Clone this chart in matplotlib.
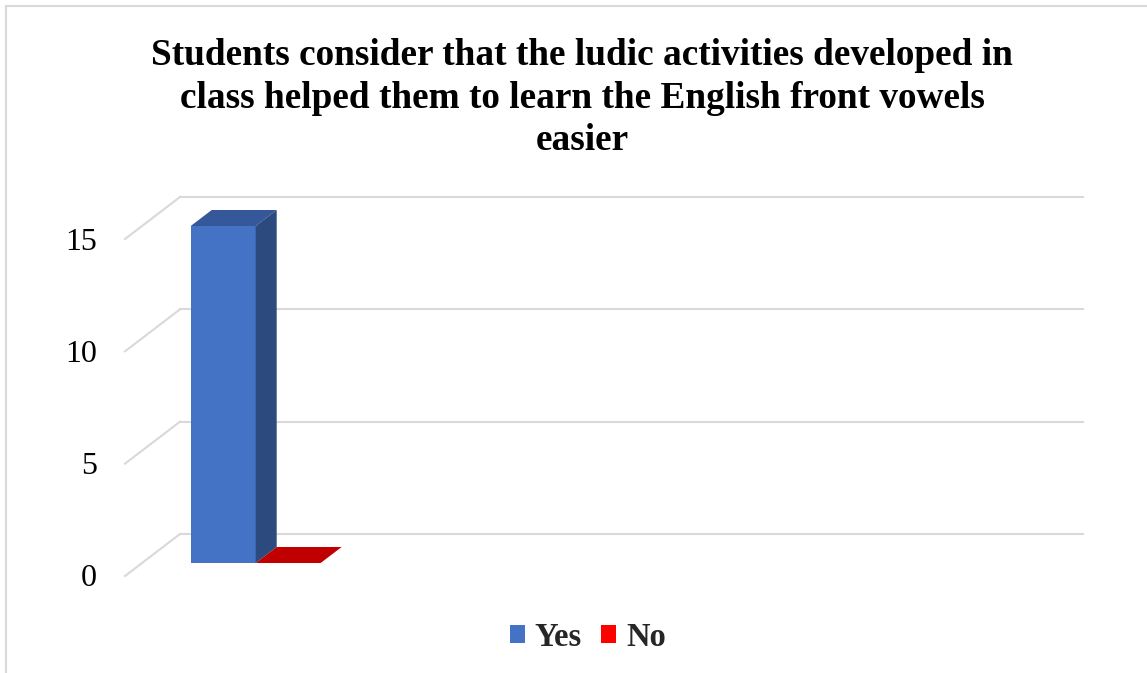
import numpy as np
import matplotlib.pyplot as plt
from matplotlib.patches import Polygon, Patch
from matplotlib.lines import Line2D

# survey answers
series = ['Yes', 'No']
values = [15, 0]
yticks = [0, 5, 10, 15]
title = ('Students consider that the ludic activities developed in\n'
         'class helped them to learn the English front vowels\n'
         'easier')

front_cols = ['#4472C4', '#C00000']
top_cols = ['#34589A', '#C00000']
side_cols = ['#2C4A7E', '#9A0000']
grid_col = '#D9D9D9'

W, H = 1147, 673
fig = plt.figure(figsize=(W / 100, H / 100), dpi=100)
ax = fig.add_axes([142 / W, (H - 563) / H, 903 / W, (563 - 226) / H])
ax.set_xlim(0, 13.9)
ax.set_ylim(0, 15)
ax.axis('off')

# pixel -> data scale for the 3d offsets
p0 = ax.transData.transform((0, 0))
p1 = ax.transData.transform((1, 1))
sx = 1.0 / (p1[0] - p0[0])
sy = 1.0 / (p1[1] - p0[1])

# back wall gridlines + floor depth diagonals
bx, by = 38 * sx, 29 * sy
fx, fy = -17 * sx, -13 * sy
for v in yticks:
    ax.plot([0 + bx, 13.9 + bx], [v + by, v + by], color=grid_col, lw=1.5,
            clip_on=False, zorder=1)
    ax.plot([0 + fx, 0 + bx], [v + fy, v + by], color=grid_col, lw=1.5,
            clip_on=False, zorder=1)
    ax.text(-45 * sx, v - 16 * sy, str(v), ha='right', va='center',
            fontsize=23, family='Liberation Serif', color='#000000')

# 3d columns
x = np.array([0.75, 1.75])
bw = 1.0
dx, dy = 21 * sx, 16 * sy
ax.bar(x, values, width=bw, align='edge', color=front_cols, zorder=3,
       clip_on=False)
for i, v in enumerate(values):
    l, r = x[i], x[i] + bw
    top = Polygon([(l, v), (r, v), (r + dx, v + dy), (l + dx, v + dy)],
                  closed=True, facecolor=top_cols[i], edgecolor='none',
                  zorder=3, clip_on=False)
    ax.add_patch(top)
    if v > 0:
        side = Polygon([(r, 0), (r, v), (r + dx, v + dy), (r + dx, dy)],
                       closed=True, facecolor=side_cols[i], edgecolor='none',
                       zorder=3, clip_on=False)
        ax.add_patch(side)

fig.text(582 / W, 1 - 98 / H, title, ha='center', va='center',
         fontsize=26.8, fontweight='bold', family='Liberation Serif',
         linespacing=1.27)

handles = [Patch(facecolor='#4472C4'), Patch(facecolor='#FF0000')]
leg = fig.legend(handles, series, loc='center',
                 bbox_to_anchor=(588 / W, 1 - 637 / H), ncol=2, frameon=False,
                 handlelength=0.46, handleheight=0.46, handletextpad=0.3,
                 columnspacing=0.6,
                 prop={'family': 'Liberation Serif', 'weight': 'bold', 'size': 23.5})
for t in leg.get_texts():
    t.set_color('#262626')

# chart area border (left and top edges)
fig.add_artist(Line2D([6 / W, 6 / W], [0, 1 - 6 / H], color=grid_col, lw=1.5))
fig.add_artist(Line2D([6 / W, 1], [1 - 6 / H, 1 - 6 / H], color=grid_col, lw=1.5))

fig.savefig('out.png', dpi=100)
